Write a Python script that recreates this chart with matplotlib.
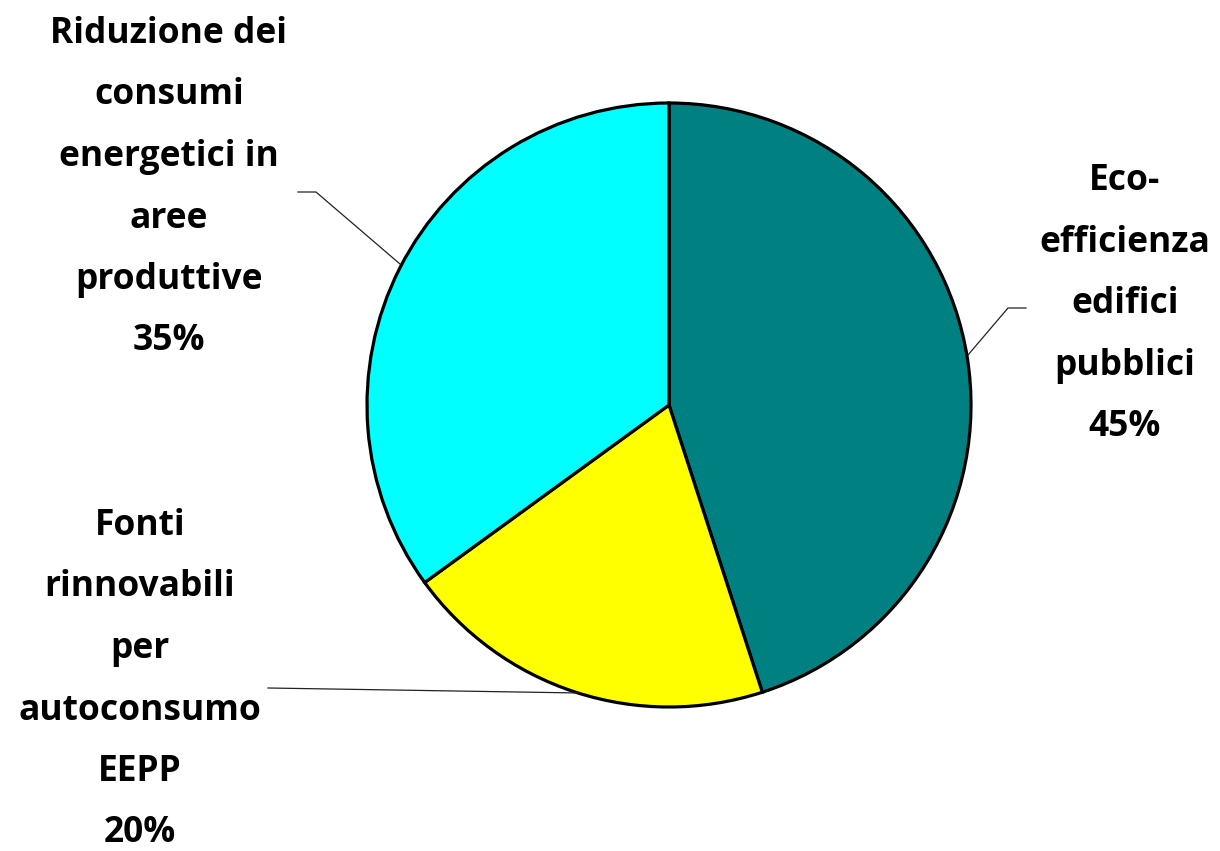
import matplotlib
matplotlib.use('Agg')
from matplotlib import pyplot as plt

labels = ['Eco-\nefficienza\nedifici\npubblici',
          'Fonti\nrinnovabili\nper\nautoconsumo\nEEPP',
          'Riduzione dei\nconsumi\nenergetici in\naree\nproduttive']
values = [45, 20, 35]
colors = ['#008080', '#FFFF00', '#00FFFF']

W, H = 1220, 851

fig = plt.figure(figsize=(W / 100, H / 100), dpi=100)
ax = fig.add_axes([0, 0, 1, 1])

def py(y):
    # pixel row (from top) to data y
    return H - y

cx, cy, r = 669, 405, 302
ax.pie(values, colors=colors, startangle=90, counterclock=False,
       center=(cx, py(cy)), radius=r, frame=True,
       wedgeprops=dict(edgecolor='black', linewidth=2.3))
ax.set_xlim(0, W)
ax.set_ylim(0, H)
ax.axis('off')

# leader lines
lc = '#222222'
ax.plot([298, 316, 400], [py(192), py(192), py(264)], color=lc, lw=0.9)
ax.plot([1026, 1008, 968], [py(308), py(308), py(355)], color=lc, lw=0.9)
ax.plot([268, 580], [py(688), py(693)], color=lc, lw=0.9)

# labels, one line at a time
font = dict(family=['Open Sans', 'DejaVu Sans'], fontweight='bold',
            fontsize=25.5, ha='center', va='baseline', color='black')
step = 61.5
places = [(1125, 190), (140, 535), (169, 43)]
for lab, v, (x, y0) in zip(labels, values, places):
    lines = lab.split('\n') + ['%d%%' % v]
    for i, t in enumerate(lines):
        ax.text(x, py(y0 + i * step), t, **font)

fig.savefig('out.png', dpi=100)
